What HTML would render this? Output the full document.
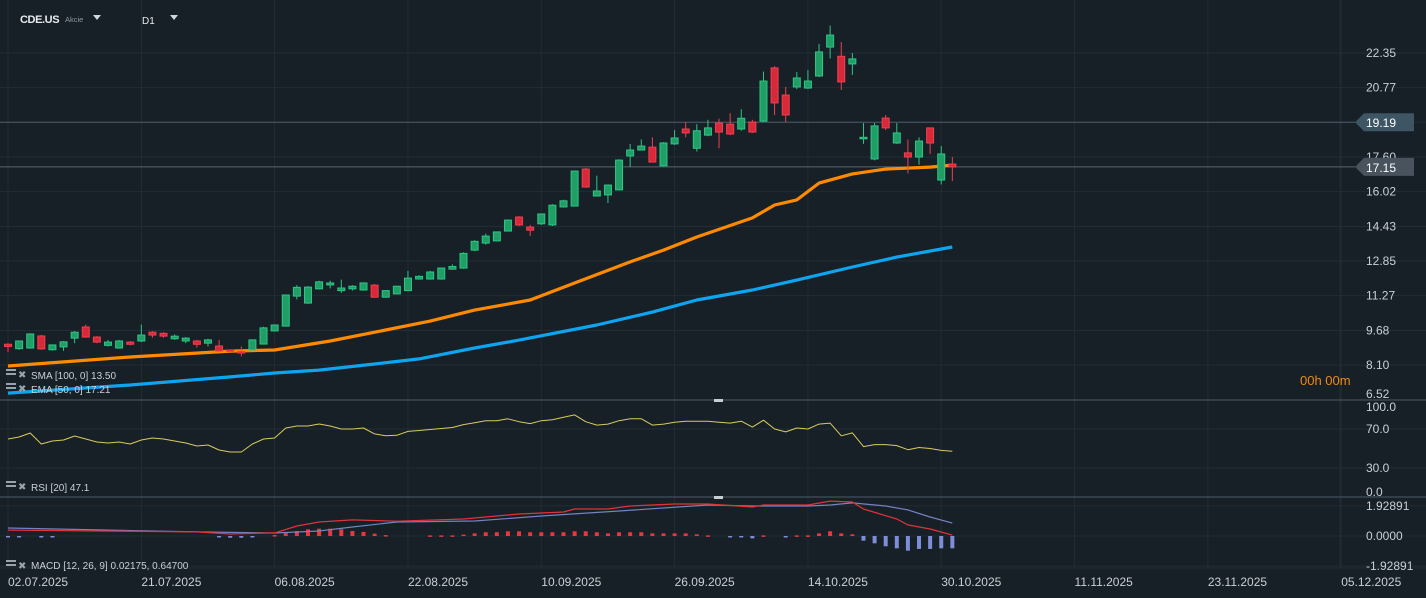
<!DOCTYPE html>
<html><head><meta charset="utf-8"><style>
html,body{margin:0;padding:0;background:#171f27;}
svg{display:block;font-family:"Liberation Sans",sans-serif;}
</style></head><body>
<svg id="chart" width="1426" height="598" viewBox="0 0 1426 598">
<rect x="0" y="0" width="1426" height="598" fill="#171f27"/>
<g id="grid"></g>
<g id="main"></g>
<g id="rsi"></g>
<g id="macd"></g>
<g id="labels">
  <text x="20" y="23" fill="#e8ecef" font-size="11" font-weight="bold" letter-spacing="-0.4">CDE.US</text>
  <text x="65" y="22" fill="#8e99a3" font-size="7.5">Akcie</text>
  <path d="M93,15 L101,15 L97,20 Z" fill="#d0d6dc"/>
  <text x="142" y="24" fill="#e8ecef" font-size="10">D1</text>
  <path d="M170,15 L178,15 L174,20 Z" fill="#d0d6dc"/>
  <text x="1300" y="385" fill="#f08a10" font-size="13">00h 00m</text>
  <g>
   <rect x="6" y="369" width="10" height="2" fill="#9aa3ab"/><rect x="6" y="373" width="10" height="2" fill="#9aa3ab"/><text x="18" y="378" fill="#9aa3ab" font-size="10">✖</text>
   <text x="31" y="379" fill="#c9d0d6" font-size="10">SMA [100,  0] 13.50</text></g>
  <g>
   <rect x="6" y="383" width="10" height="2" fill="#9aa3ab"/><rect x="6" y="387" width="10" height="2" fill="#9aa3ab"/><text x="18" y="392" fill="#9aa3ab" font-size="10">✖</text>
   <text x="31" y="393" fill="#c9d0d6" font-size="10">EMA [50,  0] 17.21</text></g>
  <g>
   <rect x="6" y="481" width="10" height="2" fill="#9aa3ab"/><rect x="6" y="485" width="10" height="2" fill="#9aa3ab"/><text x="18" y="490" fill="#9aa3ab" font-size="10">✖</text>
   <text x="31" y="491" fill="#c9d0d6" font-size="10">RSI  [20]  47.1</text></g>
  <g>
   <rect x="6" y="560" width="10" height="2" fill="#9aa3ab"/><rect x="6" y="564" width="10" height="2" fill="#9aa3ab"/><text x="18" y="569" fill="#9aa3ab" font-size="10">✖</text>
   <text x="31" y="569" fill="#c9d0d6" font-size="10">MACD  [12,  26,  9]  0.02175,  0.64700</text></g>
  <rect x="714" y="399" width="9" height="3" fill="#c8cdd2"/>
  <rect x="714" y="496" width="9" height="3" fill="#c8cdd2"/>
</g>
</svg>
<script>
const NS="http://www.w3.org/2000/svg";
const opens=[9.05,8.85,8.88,9.43,8.8,8.93,9.33,9.84,9.38,9.0,8.88,9.15,9.2,9.6,9.55,9.3,9.2,9.2,9.1,8.97,8.79,8.72,8.79,9.06,9.66,9.88,11.25,10.93,11.58,11.76,11.5,11.58,11.53,11.75,11.2,11.35,11.5,12.03,12.03,12.03,12.48,12.53,13.35,13.67,13.77,14.22,14.86,14.4,14.55,14.5,15.32,15.36,17.05,15.82,15.87,16.1,17.65,17.92,18.05,17.2,18.2,18.88,18.0,18.6,19.15,19.1,18.88,19.2,19.24,21.67,20.43,20.8,20.75,21.3,22.62,22.2,21.85,18.43,17.51,19.38,18.24,17.79,17.6,18.93,16.55,17.28];
const highs=[9.1,9.22,9.55,9.48,9.02,9.2,9.65,9.95,9.42,9.25,9.25,9.2,9.95,9.65,9.6,9.5,9.38,9.25,9.3,9.25,8.82,8.95,9.27,9.85,9.95,11.32,11.75,11.7,11.95,11.95,12.0,11.75,11.88,11.8,11.52,11.72,12.4,12.2,12.4,12.55,12.7,13.25,13.8,14.1,14.2,14.75,14.9,14.5,15.02,15.45,15.65,16.98,17.1,16.75,16.35,17.5,18.2,18.4,18.5,18.28,18.83,19.2,19.1,19.3,19.35,19.6,19.78,19.3,21.5,21.75,20.8,21.48,21.57,22.76,23.6,22.85,22.35,19.15,19.15,19.52,19.15,18.4,18.5,18.95,18.1,17.6];
const lows=[8.7,8.8,8.85,8.8,8.76,8.75,9.1,9.35,9.1,8.95,8.85,9.0,9.15,9.35,9.35,9.25,9.1,8.9,8.95,8.72,8.7,8.5,8.77,9.04,9.64,9.86,11.1,10.9,11.55,11.6,11.4,11.5,11.5,11.18,11.18,11.33,11.48,12.0,12.0,12.0,12.45,12.5,13.3,13.6,13.75,14.2,14.45,14.0,14.5,14.45,15.3,15.34,16.2,15.8,15.5,16.08,17.15,17.9,17.35,17.18,18.15,18.5,17.85,18.55,18.0,18.6,18.8,18.7,19.2,19.52,19.2,20.7,20.7,21.25,22.1,20.66,21.35,18.2,17.45,18.83,18.2,16.85,17.25,17.74,16.35,16.5];
const closes=[8.95,9.2,9.52,8.84,9.02,9.16,9.6,9.38,9.15,9.15,9.2,9.05,9.47,9.47,9.42,9.42,9.33,9.05,9.25,8.74,8.74,8.7,9.25,9.8,9.93,11.3,11.65,11.66,11.9,11.85,11.62,11.7,11.85,11.2,11.5,11.7,12.07,12.15,12.35,12.53,12.6,13.2,13.75,13.99,14.18,14.72,14.5,14.26,15.0,15.4,15.6,16.96,16.23,16.05,16.32,17.46,17.92,18.1,17.37,18.24,18.47,18.7,18.8,18.93,18.74,18.65,19.37,18.74,21.07,20.07,19.52,21.21,21.07,22.4,23.17,21.03,22.08,18.5,19.02,18.93,18.7,17.6,18.33,18.24,17.74,17.15];
const orangeBars=[0,11,20,24,29,34,38,42,47,51,56,59,62,67,69,71,73,76,79,83,85];
const orangeVals=[8.06,8.47,8.74,8.79,9.2,9.7,10.11,10.61,11.07,11.85,12.81,13.35,13.95,14.82,15.41,15.64,16.41,16.83,17.05,17.14,17.23];
const blueBars=[0,11,20,24,28,33,37,42,46,53,58,62,67,71,76,80,85];
const blueVals=[6.82,7.19,7.56,7.74,7.87,8.15,8.38,8.88,9.24,9.93,10.52,11.07,11.53,11.98,12.58,13.03,13.49];
const rsiVals=[59.7,61.8,65.9,54.6,57.7,58.7,62.8,59.7,56.7,55.6,56.7,54.6,58.7,60.8,59.7,57.7,55.6,52.6,53.6,48.5,46.4,46.4,54.6,59.7,60.8,71,73.1,73.1,75.1,73.1,70,70,71,65,63,63.5,67.5,68.5,69.5,70.5,71.5,74.5,76.5,78.5,78.5,80.5,77.5,75.5,78.5,79.5,82,84.5,77.5,74,75,78.5,80.5,80.5,74,75,77,78,78,78,77,76,78,72,79,70,67,71,70,75,76,63,66,51.9,54,54,53,48.8,51,50,48,47.1];
const macdBars=[0,17,20,24,26,28,31,35,41,46,50,51,54,56,60,63,67,68,72,74,76,77,80,81,83,85];
const macdVals=[0.38,0.26,0.13,0.2,0.64,0.9,1.03,0.95,1.09,1.41,1.54,1.73,1.73,1.92,2.05,2.05,1.86,1.99,1.99,2.24,2.18,1.73,1.09,0.71,0.45,0.06];
const signalBars=[0,17,24,28,31,35,42,48,55,63,67,72,74,76,79,81,83,85];
const signalVals=[0.51,0.26,0.19,0.32,0.58,0.9,0.96,1.28,1.6,1.99,1.92,1.92,1.99,2.12,1.92,1.67,1.22,0.83];
const histVals=[-0.04,-0.04,0,-0.04,-0.04,0,0,0,0,0,0,0,0,0,0,0,0,0,0,-0.04,-0.11,-0.11,-0.06,0,0.06,0.21,0.32,0.43,0.47,0.47,0.43,0.32,0.26,0.15,0.06,0,0,0,0.04,0.04,0.04,0.09,0.17,0.24,0.24,0.3,0.3,0.24,0.24,0.24,0.24,0.3,0.3,0.24,0.17,0.24,0.24,0.24,0.17,0.17,0.17,0.17,0.11,0.04,0,-0.09,-0.06,-0.15,0.04,0,-0.06,0.04,0.04,0.17,0.3,0.17,0.11,-0.3,-0.47,-0.66,-0.79,-0.94,-0.83,-0.83,-0.79,-0.79];
const priceTicks=[22.35,20.77,19.19,17.60,16.02,14.43,12.85,11.27,9.68,8.10,6.52];
const rsiTicks=[100,70,30,0];
const rsiTickLabels=["100.0","70.0","30.0","0.0"];
const macdTicks=[1.92891,0,-1.92891];
const macdTickLabels=["1.92891","0.0000","-1.92891"];
const dateLabels=["02.07.2025","21.07.2025","06.08.2025","22.08.2025","10.09.2025","26.09.2025","14.10.2025","30.10.2025","11.11.2025","23.11.2025","05.12.2025"];
const dateBars=[0,12,24,36,48,60,72,84,96,108,120];

const xB=i=>8+i*11.11;
const yP=p=>53+(22.35-p)*21.9;
const yR=v=>468-(v-30)*0.975;
const yM=v=>536-v*15.6;
function mk(tag,attrs,parent){const e=document.createElementNS(NS,tag);for(const k in attrs)e.setAttribute(k,attrs[k]);parent.appendChild(e);return e;}
const G=document.getElementById('grid'),M=document.getElementById('main'),R=document.getElementById('rsi'),D=document.getElementById('macd'),L=document.getElementById('labels');

dateBars.forEach((b,i)=>{
  const x=xB(b);
  const ln=mk('line',{x1:x,x2:x,y1:0,y2:568,stroke:'#222c35','stroke-width':1},G);
  
  
  const t=mk('text',{x:x,y:586,fill:'#c9d0d6','font-size':12},L);
  t.textContent=dateLabels[i];
  
  
});
mk('line',{x1:1340,x2:1340,y1:0,y2:568,stroke:'#222c35'},G);
priceTicks.forEach(p=>{
  const y=yP(p);
  if(y<398){const ln=mk('line',{x1:0,x2:1426,y1:y,y2:y,stroke:'#222c35'},G);
  
  }
  const t=mk('text',{x:1366,y:Math.min(y,394)+4,fill:'#c9d0d6','font-size':12},L);
  t.textContent=p.toFixed(2);
  
  
});
rsiTicks.forEach((v,i)=>{
  const y=yR(v);
  if(v==70||v==30){mk('line',{x1:0,x2:1426,y1:y,y2:y,stroke:'#222c35'},G);}
  const t=mk('text',{x:1366,y:Math.max(Math.min(y,492),407)+4,fill:'#c9d0d6','font-size':12},L);
  t.textContent=rsiTickLabels[i];
  
  
});
macdTicks.forEach((v,i)=>{
  const y=yM(v);
  mk('line',{x1:0,x2:1426,y1:y,y2:y,stroke:'#222c35'},G);
  const t=mk('text',{x:1366,y:y+4,fill:'#c9d0d6','font-size':12},L);
  t.textContent=macdTickLabels[i];
  
  
});
[400,497].forEach(y=>mk('line',{x1:0,x2:1426,y1:y,y2:y,stroke:'#3c4852','stroke-width':1.5},G));
mk('line',{x1:0,x2:1426,y1:568,y2:568,stroke:'#222c35'},G);

function level(p,col,bg,name){
  const y=yP(p);
  mk('line',{x1:0,x2:1355,y1:y,y2:y,stroke:col,'stroke-width':1},M);
  const tg=mk('path',{d:`M1355,${y} L1364,${y-9} L1414,${y-9} L1414,${y+9} L1364,${y+9} Z`,fill:bg},L);
  
  
  const t=mk('text',{x:1366,y:y+5,fill:'#ffffff','font-size':12},L);
  t.textContent=p.toFixed(2);
  
  
}
level(19.19,'#4d5d69','#3e5664','high-level-tag');
level(17.15,'#5a6670','#48535d','last-price-tag');

function poly(bars,vals,yf,col,w,par,name){
  const pts=bars.map((b,i)=>xB(b).toFixed(1)+','+yf(vals[i]).toFixed(1)).join(' ');
  const pl=mk('polyline',{points:pts,fill:'none',stroke:col,'stroke-width':w,'stroke-linejoin':'round'},par);
  
  
}
poly(blueBars,blueVals,yP,'#0ea5f0',3.2,M,'sma-line');
poly(orangeBars,orangeVals,yP,'#ff8a00',3.2,M,'ema-line');

opens.forEach((o,i)=>{
  const c=closes[i],x=xB(i),up=c>=o;
  const fill=up?'#1f9e66':'#d8293b',st=up?'#2dc785':'#f0404f';
  const g=mk('g',{},M);
  
  
  mk('line',{x1:x,x2:x,y1:yP(highs[i]),y2:yP(lows[i]),stroke:st,'stroke-width':1},g);
  const top=yP(Math.max(o,c)),h=Math.max(1.5,Math.abs(yP(o)-yP(c)));
  mk('rect',{x:x-3.5,y:top,width:7,height:h,fill:fill,stroke:st,'stroke-width':1},g);
});

poly(rsiVals.map((v,i)=>i),rsiVals,yR,'#d8cc5c',1,R,'rsi-line');

histVals.forEach((v,i)=>{
  if(v===0)return;
  const y0=yM(0),y1=yM(v);
  const r=mk('rect',{x:xB(i)-2,y:Math.min(y0,y1),width:4,height:Math.max(1.5,Math.abs(y1-y0)),fill:v>0?'#e8383d':'#7d8dd8'},D);
  
  
});
poly(signalBars,signalVals,yM,'#7482c4',1.2,D,'macd-signal-line');
poly(macdBars,macdVals,yM,'#e0343a',1.2,D,'macd-line');
</script>
</body></html>
